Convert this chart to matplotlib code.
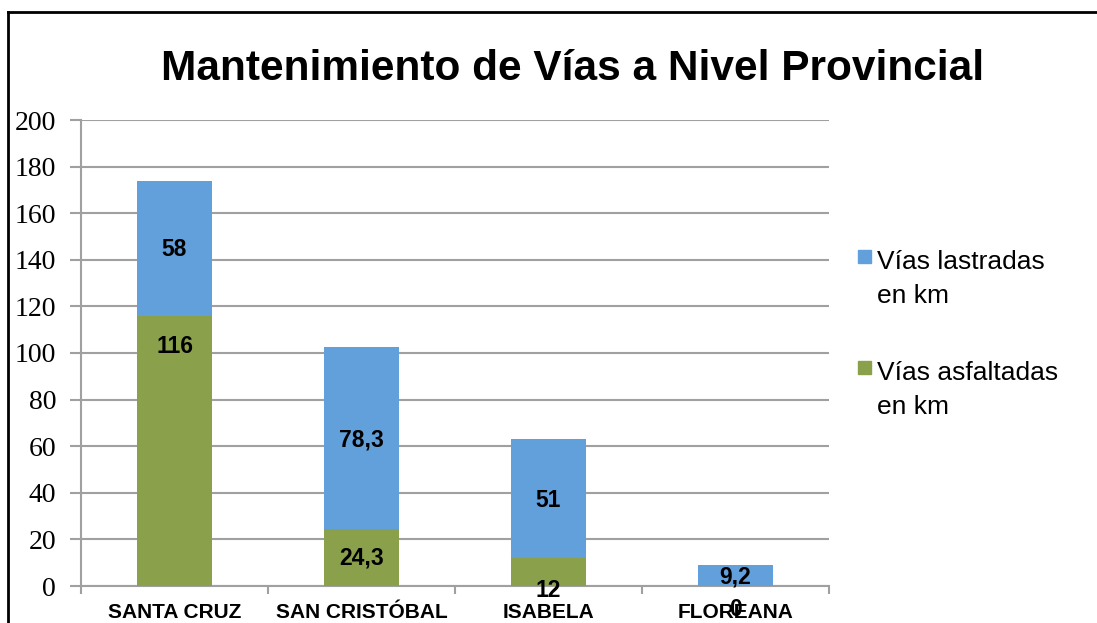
import numpy as np
import matplotlib.pyplot as plt
from matplotlib.lines import Line2D
from matplotlib.patches import Rectangle

# Data
islands = ['SANTA CRUZ', 'SAN CRISTÓBAL', 'ISABELA', 'FLOREANA']
asfaltadas = [116, 24.3, 12, 0]
lastradas = [58, 78.3, 51, 9.2]
asf_labels = ['116', '24,3', '12', '0']
las_labels = ['58', '78,3', '51', '9,2']
series_names = ['Vías lastradas\nen km', 'Vías asfaltadas\nen km']

green = '#8aa04b'
blue = '#62a0dc'
grid_col = '#a0a0a0'
W, H = 1097, 623

fig = plt.figure(figsize=(W / 100, H / 100), dpi=100)
ax = fig.add_axes([81 / W, 37 / H, 748 / W, 466 / H])

x = np.arange(len(islands))
w = 0.4
ax.bar(x, asfaltadas, w, color=green, zorder=3)
ax.bar(x, lastradas, w, bottom=asfaltadas, color=blue, zorder=3)

# value labels (Excel placed two of them off-centre)
lbl_font = dict(fontsize=16.5, fontweight='bold', family='Liberation Sans',
                ha='center', va='center', zorder=5)
asf_offsets = [75, 0, -13, -17]  # points
for i in range(len(islands)):
    ax.annotate(asf_labels[i], (x[i], asfaltadas[i] / 2),
                xytext=(0, asf_offsets[i]), textcoords='offset points', **lbl_font)
    ax.annotate(las_labels[i], (x[i], asfaltadas[i] + lastradas[i] / 2),
                xytext=(0, -1), textcoords='offset points', **lbl_font)

ax.set_xlim(-0.5, len(islands) - 0.5)
ax.set_ylim(0, 200)
ax.set_yticks(np.arange(0, 201, 20))
ax.yaxis.grid(True, color=grid_col, linewidth=1.5, zorder=0)
ax.set_axisbelow(True)

for side in ['top', 'right']:
    ax.spines[side].set_visible(False)
for side in ['left', 'bottom']:
    ax.spines[side].set_color(grid_col)
    ax.spines[side].set_linewidth(1.5)

ax.set_xticks(x)
ax.set_xticklabels(islands, fontsize=15, fontweight='bold', family='Liberation Sans')
ax.tick_params(axis='x', length=0, pad=12)
ax.set_xticks(np.arange(-0.5, len(islands)), minor=True)
ax.tick_params(axis='x', which='minor', length=6, width=1.5, color=grid_col)
ax.tick_params(axis='y', length=8, width=1.5, color=grid_col, labelsize=20, pad=10)
for t in ax.get_yticklabels():
    t.set_family('Liberation Serif')

fig.text(0.522, 0.89, 'Mantenimiento de Vías a Nivel Provincial', ha='center', va='center',
         fontsize=30.5, fontweight='bold', family='Liberation Sans')

# legend drawn by hand: marker sits beside the first line of each label
leg_colors = [blue, green]
leg_top = [250, 361]  # px from top, square top edge
for name, col, top in zip(series_names, leg_colors, leg_top):
    fig.add_artist(Rectangle((858 / W, 1 - (top + 13) / H), 13 / W, 13 / H,
                             transform=fig.transFigure, color=col))
    fig.text(877 / W, 1 - (top + 29) / H, name, ha='left', va='center',
             fontsize=19, family='Liberation Sans', linespacing=1.5)

# outer frame (top and left edges visible)
fig.add_artist(Line2D([8 / W, 8 / W], [0, 1 - 12 / H], transform=fig.transFigure,
                      color='black', linewidth=2))
fig.add_artist(Line2D([8 / W, 1], [1 - 12 / H, 1 - 12 / H], transform=fig.transFigure,
                      color='black', linewidth=2))

fig.savefig('out.png', dpi=100)
